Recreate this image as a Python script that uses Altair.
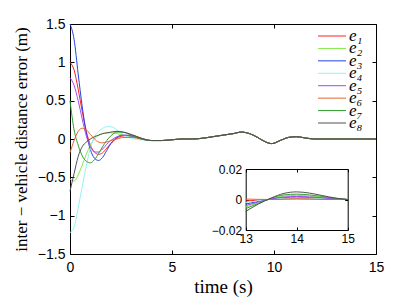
import altair as alt
import pandas as pd

# ---------------- data ----------------
SERIES = ["e1", "e2", "e3", "e4", "e5", "e6", "e7", "e8"]
LABELS = ["e₁", "e₂", "e₃", "e₄", "e₅", "e₆", "e₇", "e₈"]
COLORS = ["#ff2020", "#84e848", "#2244e0", "#90f4ee", "#a448f4", "#e8642e", "#2ea02e", "#505050"]

T_EARLY = [0, 0.2, 0.4, 0.6, 0.8, 1.0, 1.2, 1.4, 1.6, 1.8, 2.0, 2.3, 2.6, 3.0, 3.5]
E1 = [1.0, 0.9, 0.65, 0.36, 0.1, -0.08, -0.17, -0.2, -0.18, -0.12, -0.06, 0.01, 0.04, 0.05, 0.01]
E2 = [-0.52, -0.55, -0.47, -0.34, -0.2, -0.08, 0.0, 0.05, 0.07, 0.08, 0.08, 0.07, 0.05, 0.03, 0.0]
E3 = [1.5, 1.3, 0.85, 0.42, 0.08, -0.14, -0.25, -0.28, -0.24, -0.15, -0.06, 0.02, 0.05, 0.04, 0.0]
E4 = [-1.22, -1.15, -0.9, -0.62, -0.35, -0.12, 0.03, 0.1, 0.14, 0.16, 0.16, 0.12, 0.06, 0.01, -0.01]
E5 = [0.8, 0.7, 0.5, 0.26, 0.04, -0.1, -0.17, -0.17, -0.13, -0.07, -0.02, 0.03, 0.05, 0.04, 0.0]
E6 = [-0.18, -0.02, 0.1, 0.14, 0.12, 0.06, 0.0, -0.04, -0.05, -0.04, -0.02, 0.0, 0.02, 0.02, 0.0]
E7 = [0.5, 0.12, -0.08, -0.22, -0.29, -0.31, -0.27, -0.19, -0.1, -0.02, 0.04, 0.09, 0.09, 0.05, 0.0]
E8 = [-0.68, -0.45, -0.23, -0.1, -0.04, 0.0, 0.03, 0.05, 0.07, 0.08, 0.09, 0.1, 0.09, 0.06, 0.01]
EARLY = [E1, E2, E3, E4, E5, E6, E7, E8]

T_TAIL = [4.0, 4.5, 5.0, 5.5, 6.0, 6.5, 7.0, 7.5, 8.0, 8.4, 8.8, 9.2, 9.6, 9.9,
          10.3, 10.7, 11.1, 11.5, 12.0, 12.5, 13.0, 13.5, 14.0, 14.5, 15.0]
TAIL = [-0.02, -0.02, -0.01, 0.0, 0.0, 0.01, 0.03, 0.05, 0.07, 0.09, 0.07, 0.02, -0.04, -0.06,
        -0.02, 0.02, 0.03, 0.015, 0.0, 0.0, 0.0, 0.0, 0.0, 0.0, 0.0]

T_INSET = [13.0, 13.25, 13.5, 13.75, 14.0, 14.25, 14.5, 14.75, 15.0]
I1 = [-0.001, -0.0004, 0.0001, 0.0004, 0.0006, 0.0005, 0.0003, 0.0001, 0.0]
I2 = [-0.005, -0.002, 0.0006, 0.0022, 0.0027, 0.0023, 0.0015, 0.0006, 0.0]
I3 = [-0.003, -0.0012, 0.0003, 0.0012, 0.0015, 0.0013, 0.0008, 0.0003, 0.0]
I4 = [-0.002, -0.0008, 0.0002, 0.0008, 0.001, 0.0009, 0.0006, 0.0002, 0.0]
I5 = [-0.004, -0.0016, 0.0004, 0.0016, 0.002, 0.0017, 0.0011, 0.0004, 0.0]
I6 = [0.0003, 0.0001, 0.0, 0.0002, 0.0003, 0.0002, 0.0001, 0.0, 0.0]
I7 = [-0.006, -0.0025, 0.0008, 0.003, 0.0035, 0.003, 0.002, 0.0008, 0.0]
I8 = [-0.0078, -0.003, 0.001, 0.004, 0.005, 0.0042, 0.0026, 0.001, 0.0]
INSET = [I1, I2, I3, I4, I5, I6, I7, I8]

rows = []
for s, vals in zip(SERIES, EARLY):
    for t, v in zip(T_EARLY, vals):
        rows.append({"series": s, "t": t, "v": v})
    for t, v in zip(T_TAIL, TAIL):
        rows.append({"series": s, "t": t, "v": v})
df_main = pd.DataFrame(rows)

rows = []
for s, vals in zip(SERIES, INSET):
    for t, v in zip(T_INSET, vals):
        rows.append({"series": s, "t": t, "v": v})
df_inset = pd.DataFrame(rows)

df_leg = pd.DataFrame({"series": SERIES, "label": LABELS})

# ---------------- layout ----------------
W, H = 306, 230
IX0, IX1 = 175.7, 277.7      # inset x range in plot pixels
IYB, IYT = 206, 145          # inset y range (bottom, top)

LABEL_FONT = "Liberation Sans"
TITLE_FONT = "Liberation Serif"

color = alt.Color("series:N", scale=alt.Scale(domain=SERIES, range=COLORS), legend=None)

XV = [0, 5, 10, 15]
YV = [-1.5, -1, -0.5, 0, 0.5, 1, 1.5]


def main_x(axis):
    return alt.X("t:Q", scale=alt.Scale(domain=[0, 15], nice=False, zero=False), axis=axis)


def main_y(axis):
    return alt.Y("v:Q", scale=alt.Scale(domain=[-1.5, 1.5], nice=False, zero=False), axis=axis)


def tick_axis(orient, offset, values, domain, size=4):
    return alt.Axis(orient=orient, offset=offset, values=values, labels=False, domain=domain,
                    ticks=True, tickSize=size, tickColor="#000", domainColor="#000",
                    title=None, grid=False)


base = alt.Chart(df_main)

main_lines = base.mark_line(strokeWidth=1, interpolate="monotone").encode(
    x=main_x(alt.Axis(values=XV, format="~g", ticks=False, labelFlush=False, labelOverlap=False,
                      labelFont=LABEL_FONT, labelFontSize=14, labelColor="#000", labelPadding=6,
                      domainColor="#000", title="time (s)", titleFont=TITLE_FONT,
                      titleFontSize=19, titleFontWeight="normal", titlePadding=3, titleColor="#000")),
    y=main_y(alt.Axis(values=YV, format="~g", ticks=False, labelFlush=False, labelOverlap=False,
                      labelFont=LABEL_FONT, labelFontSize=14, labelColor="#000", labelPadding=5,
                      domainColor="#000", title="inter − vehicle distance error (m)",
                      titleFont=TITLE_FONT, titleFontSize=17, titleFontWeight="normal",
                      titlePadding=7, titleColor="#000")),
    color=color,
)

main_ticks_in = base.mark_line(opacity=0).encode(
    x=main_x(tick_axis("top", -H, XV, False)),
    y=main_y(tick_axis("right", -W, YV, False)),
)
main_box = base.mark_line(opacity=0).encode(
    x=main_x(tick_axis("bottom", -H, XV, True)),
    y=main_y(tick_axis("left", -W, YV, True)),
)

# ---------------- inset ----------------
ibase = alt.Chart(df_inset)
IXV = [13, 14, 15]
IYV = [-0.02, 0, 0.02]


def ins_x(axis):
    return alt.X("t:Q", scale=alt.Scale(domain=[13, 15], range=[IX0, IX1], nice=False, zero=False),
                 axis=axis)


def ins_y(axis):
    return alt.Y("v:Q", scale=alt.Scale(domain=[-0.02, 0.02], range=[IYB, IYT], nice=False, zero=False),
                 axis=axis)


inset_lines = ibase.mark_line(strokeWidth=1, interpolate="monotone").encode(
    x=ins_x(alt.Axis(orient="bottom", offset=IYB - H, values=IXV, format="~g", ticks=False,
                     labelFlush=False, labelFont=LABEL_FONT, labelFontSize=12, labelColor="#000",
                     labelPadding=3, domainColor="#000", title=None, grid=False)),
    y=ins_y(alt.Axis(orient="left", offset=-IX0, values=IYV, format="~g", ticks=False,
                     labelFlush=False, labelFont=LABEL_FONT, labelFontSize=12, labelColor="#000",
                     labelPadding=4, domainColor="#000", title=None, grid=False)),
    color=color,
)
inset_ticks_in = ibase.mark_line(opacity=0).encode(
    x=ins_x(tick_axis("top", -IYB, IXV, False, 3)),
    y=ins_y(tick_axis("right", IX0 - W, IYV, False, 3)),
)
inset_box = ibase.mark_line(opacity=0).encode(
    x=ins_x(tick_axis("bottom", IYT - H, IXV, True, 3)),
    y=ins_y(tick_axis("left", -IX1, IYV, True, 3)),
)

# ---------------- legend ----------------
lbase = alt.Chart(df_leg)
leg_y = alt.Y("series:N", scale=alt.Scale(type="point", domain=SERIES, range=[12, 99], padding=0),
              axis=None)
leg_lines = lbase.mark_rule(strokeWidth=1).encode(
    x=alt.value(248), x2=alt.value(276), y=leg_y, color=color
)
leg_text = lbase.mark_text(align="left", baseline="middle", font=TITLE_FONT, fontStyle="italic",
                           fontSize=17, color="#000").encode(
    x=alt.value(279), y=leg_y, text="label:N"
)

chart = alt.layer(
    main_lines, main_ticks_in, main_box,
    inset_lines, inset_ticks_in, inset_box,
    leg_lines, leg_text,
).resolve_scale(
    x="independent", y="independent", color="shared"
).properties(
    width=W, height=H,
    autosize=alt.AutoSizeParams(type="none"),
    padding={"left": 62, "top": 16, "right": 25, "bottom": 45},
    background="white",
).configure_view(stroke=None).configure_axis(grid=False)

chart.save("out.html", embed_options={"renderer": "svg", "actions": False})
